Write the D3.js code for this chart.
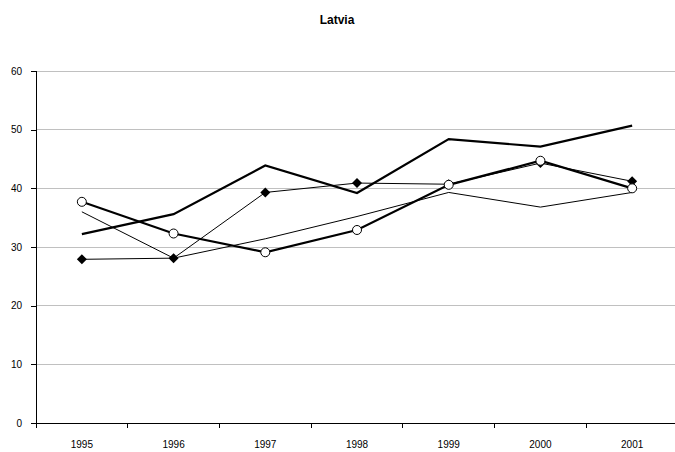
<!DOCTYPE html>
<html><head><meta charset="utf-8">
<script src="https://cdn.jsdelivr.net/npm/d3@7"></script>
<style>body{margin:0;background:#fff}svg{display:block}text{font-family:"Liberation Sans",Arial,sans-serif}</style>
</head><body>
<svg id="c" width="675" height="452"></svg>
<script>
const years = ["1995","1996","1997","1998","1999","2000","2001"];
const yTicks = [0,10,20,30,40,50,60];
const seriesThinPlain = [36.0,28.1,31.4,35.2,39.3,36.8,39.3];
const seriesDiamond = [27.9,28.1,39.3,40.9,40.7,44.3,41.2];
const seriesThickPlain = [32.2,35.6,43.9,39.2,48.4,47.1,50.7];
const seriesCircle = [37.7,32.3,29.1,32.9,40.6,44.7,40.0];

const svg = d3.select("#c");
const pL = 36, pR = 678, pT = 71, pB = 423;
const x = d3.scaleBand().domain(years).range([pL,pR]).padding(0);
const y = d3.scaleLinear().domain([0,60]).range([pB,pT]);

svg.append("text").attr("x",337).attr("y",24).attr("text-anchor","middle")
  .attr("font-size",12).attr("font-weight","bold").text("Latvia");

// gridlines
svg.append("g").selectAll("line").data(yTicks.filter(d=>d>0)).join("line")
  .attr("x1",pL).attr("x2",pR).attr("y1",d=>y(d)).attr("y2",d=>y(d))
  .attr("stroke","#c0c0c0").attr("stroke-width",1).attr("shape-rendering","crispEdges");

// y axis
const ya = svg.append("g").attr("transform",`translate(${pL},0)`)
  .call(d3.axisLeft(y).tickValues(yTicks).tickSize(5).tickPadding(9).tickFormat(d3.format("d")));
ya.select(".domain").attr("stroke","#000").attr("shape-rendering","crispEdges");
ya.selectAll("line").attr("shape-rendering","crispEdges");
ya.selectAll("text").attr("font-size",10).attr("font-family","Liberation Sans, Arial, sans-serif").attr("fill","#000");

// x axis
const xa = svg.append("g").attr("transform",`translate(0,${pB})`)
  .call(d3.axisBottom(x).tickSize(0).tickPadding(18));
xa.select(".domain").attr("stroke","#000").attr("shape-rendering","crispEdges");
xa.selectAll("text").attr("font-size",10).attr("font-family","Liberation Sans, Arial, sans-serif").attr("fill","#000");
svg.append("g").selectAll("line").data(years).join("line")
  .attr("x1",d=>x(d)).attr("x2",d=>x(d)).attr("y1",pB).attr("y2",pB+5)
  .attr("stroke","#000").attr("shape-rendering","crispEdges");

const cx = (i)=>x(years[i])+x.bandwidth()/2;
const line = d3.line().x((d,i)=>cx(i)).y(d=>y(d));
function drawLine(data,w){
  svg.append("path").datum(data).attr("d",line).attr("fill","none")
    .attr("stroke","#000").attr("stroke-width",w).attr("stroke-linejoin","miter");
}
drawLine(seriesThinPlain,1);
drawLine(seriesDiamond,1);
svg.append("g").selectAll("path").data(seriesDiamond).join("path")
  .attr("d",d3.symbol(d3.symbolSquare,50))
  .attr("transform",(d,i)=>`translate(${cx(i)},${y(d)}) rotate(45)`)
  .attr("fill","#000");
drawLine(seriesThickPlain,2.2);
drawLine(seriesCircle,2.2);
svg.append("g").selectAll("circle").data(seriesCircle).join("circle")
  .attr("cx",(d,i)=>cx(i)).attr("cy",d=>y(d)).attr("r",4.5)
  .attr("fill","#fff").attr("stroke","#000").attr("stroke-width",1);
</script>
</body></html>
